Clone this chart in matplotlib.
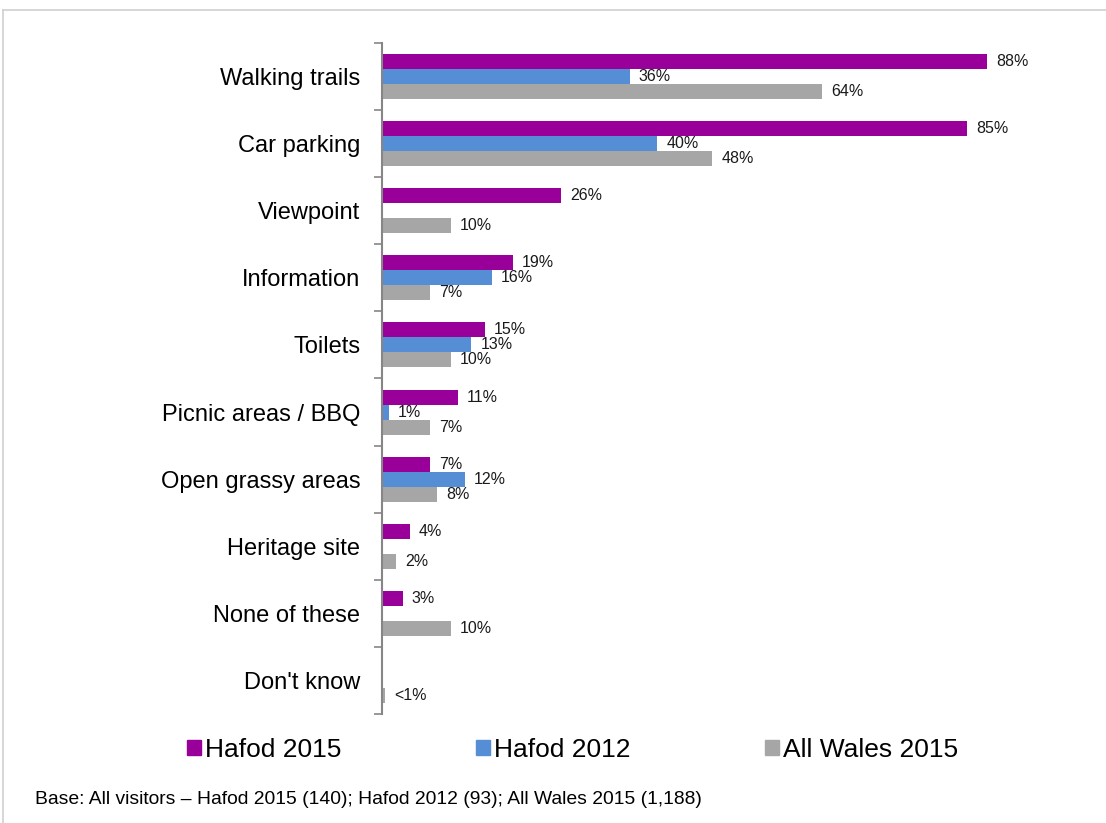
import matplotlib.pyplot as plt
import numpy as np
from matplotlib.lines import Line2D
from matplotlib.patches import Patch

plt.rcParams['font.family'] = ['Liberation Sans', 'DejaVu Sans']

categories = ["Walking trails", "Car parking", "Viewpoint", "Information", "Toilets",
              "Picnic areas / BBQ", "Open grassy areas", "Heritage site",
              "None of these", "Don't know"]
hafod_2015 = [88, 85, 26, 19, 15, 11, 7, 4, 3, None]
hafod_2012 = [36, 40, None, 16, 13, 1, 12, None, None, None]
wales_2015 = [64, 48, 10, 7, 10, 7, 8, 2, 10, 0.5]
wales_labels = ["64%", "48%", "10%", "7%", "10%", "7%", "8%", "2%", "10%", "<1%"]

series = [
    ("Hafod 2015", hafod_2015, "#990099", None),
    ("Hafod 2012", hafod_2012, "#558ED5", None),
    ("All Wales 2015", wales_2015, "#A6A6A6", wales_labels),
]

fig = plt.figure(figsize=(11.06, 8.23), dpi=100)
ax = fig.add_axes([0.3454, 0.1324, 0.622, 0.8154])

y = np.arange(len(categories))
h = 0.224
for k, (name, vals, col, labels) in enumerate(series):
    off = (k - 1) * h
    for i, v in enumerate(vals):
        if v is None:
            continue
        ax.barh(y[i] + off, v, height=h, color=col, edgecolor='none')
        txt = labels[i] if labels else f"{v}%"
        ax.annotate(txt, (v, y[i] + off), xytext=(6.5, 0), textcoords='offset points',
                    va='center', ha='left', fontsize=11.5, color='#1a1a1a')

ax.set_xlim(0, 100)
ax.set_ylim(len(categories) - 0.5, -0.5)
ax.set_yticks(y)
ax.set_yticklabels(categories, fontsize=17)
ax.tick_params(axis='y', length=0, pad=15.5)
ax.set_yticks(np.arange(len(categories) + 1) - 0.5, minor=True)
ax.tick_params(axis='y', which='minor', length=6, color='#868686', width=1.2)
ax.set_xticks([])
for s in ['top', 'right', 'bottom']:
    ax.spines[s].set_visible(False)
ax.spines['left'].set_color('#868686')
ax.spines['left'].set_linewidth(1.5)

handles = [Patch(color=c, label=n) for n, _, c, _ in series]
fig.legend(handles=handles, loc='center', bbox_to_anchor=(0.518, 0.0887), ncol=3,
           frameon=False, fontsize=19, handlelength=0.53, handleheight=0.53,
           handletextpad=0.15, columnspacing=5.1)

fig.text(0.032, 0.028, "Base: All visitors \u2013 Hafod 2015 (140); Hafod 2012 (93); All Wales 2015 (1,188)",
         fontsize=13.9, va='center', ha='left')

# outer frame
fig.add_artist(Line2D([0.003, 1.0], [0.988, 0.988], color='#D0D0D0', lw=1.2))
fig.add_artist(Line2D([0.003, 0.003], [0.0, 0.988], color='#D0D0D0', lw=1.2))

fig.savefig("out.png", dpi=100)
